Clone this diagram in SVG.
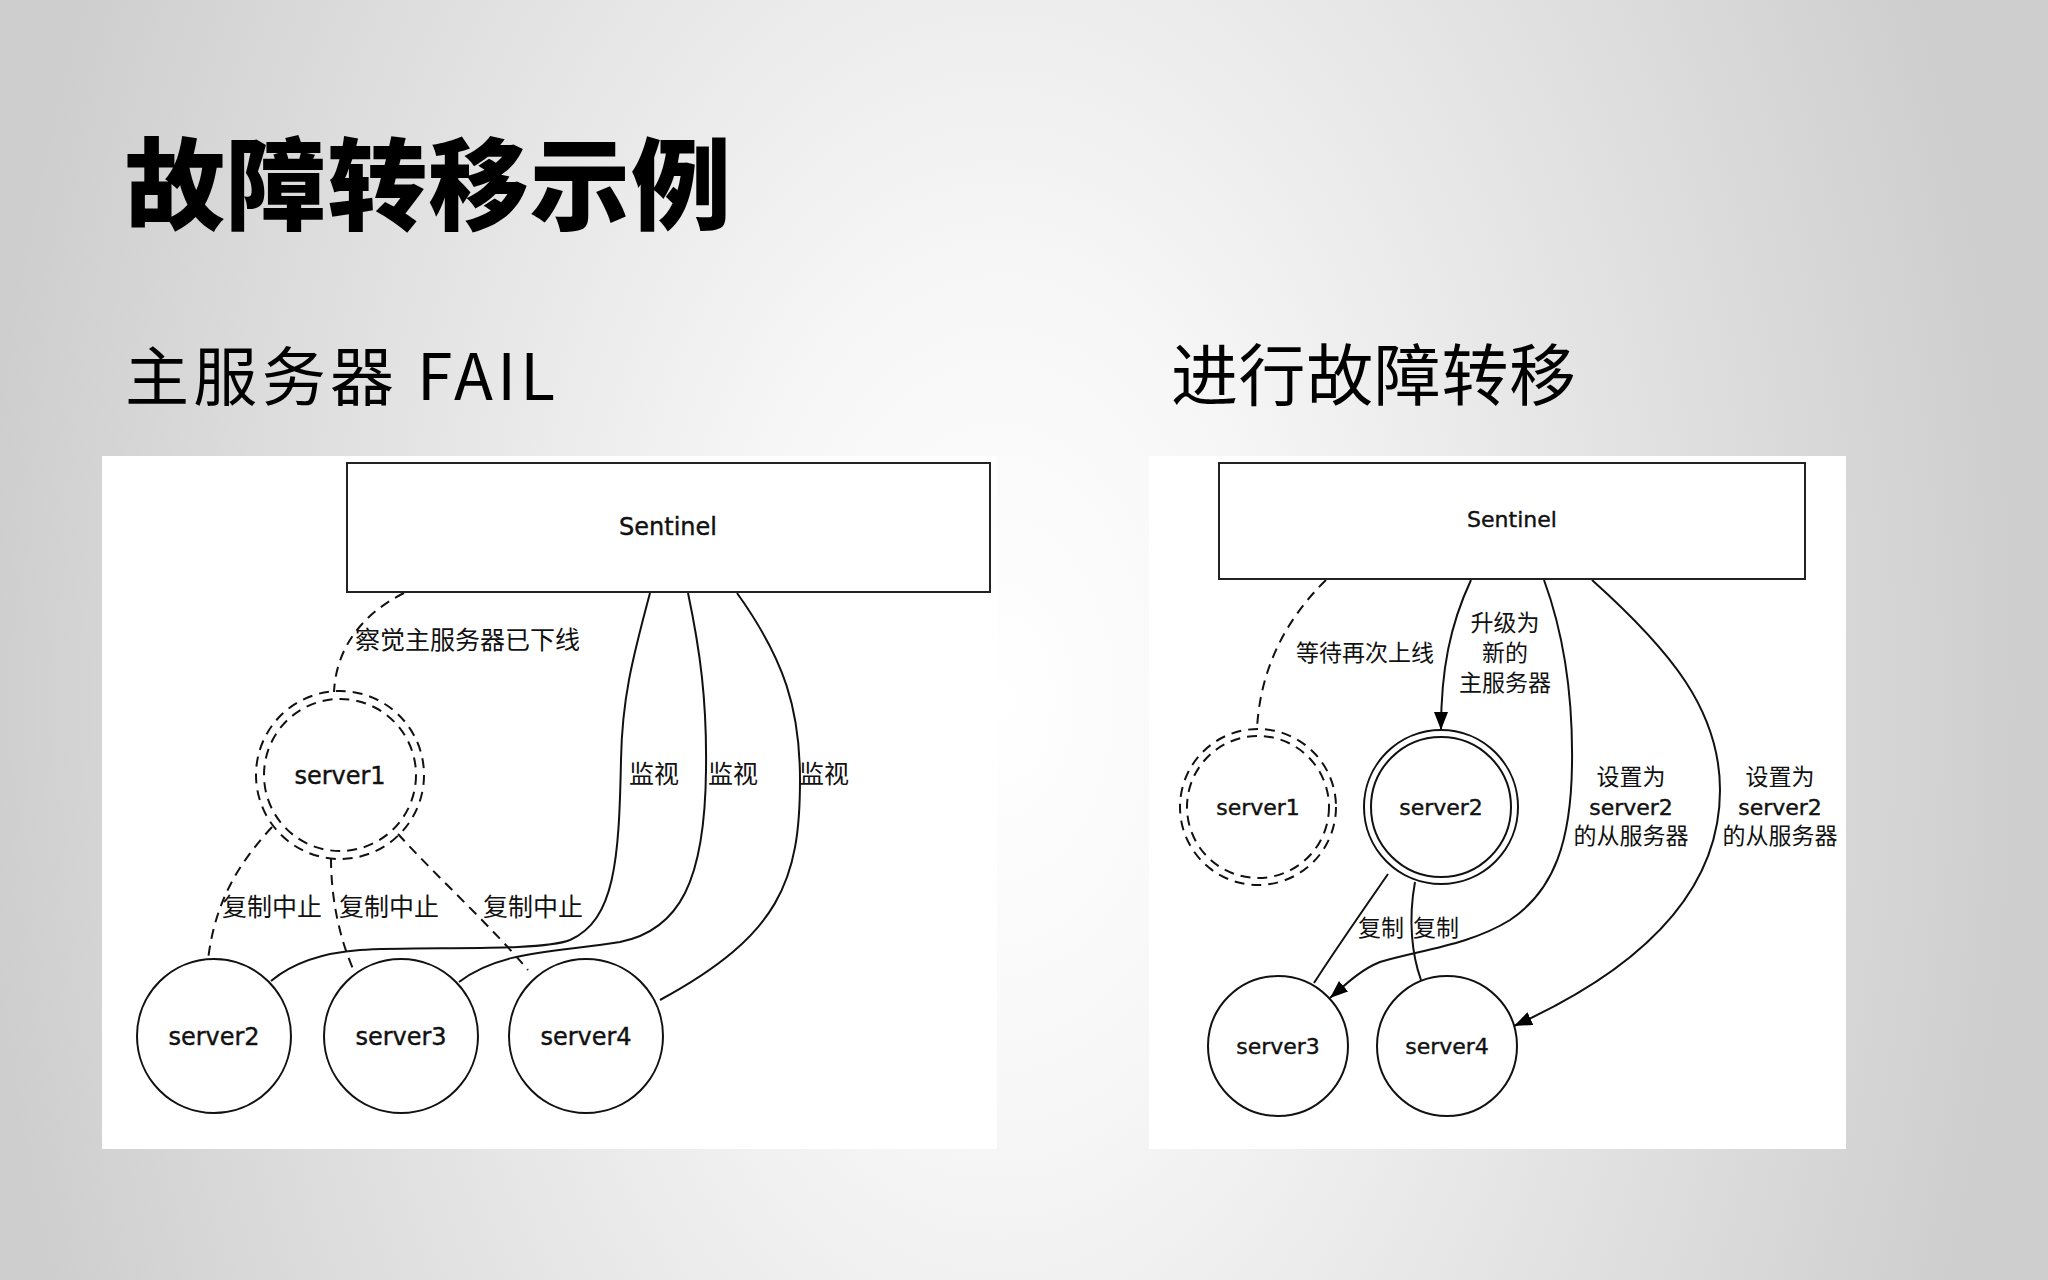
<svg xmlns="http://www.w3.org/2000/svg" width="2048" height="1280" viewBox="0 0 2048 1280">
<defs>
  <radialGradient id="bg" gradientUnits="userSpaceOnUse" cx="1000" cy="700" r="1020" gradientTransform="translate(0 700) scale(1 1.6) translate(0 -700)">
    <stop offset="0" stop-color="#ffffff"/>
    <stop offset="0.25" stop-color="#f7f7f7"/>
    <stop offset="1" stop-color="#cecece"/>
  </radialGradient>
  <marker id="arr" markerUnits="userSpaceOnUse" markerWidth="20" markerHeight="16" refX="18" refY="7" orient="auto">
    <path d="M0,0 L18,7 L0,14 Z" fill="#000"/>
  </marker>
  <style>
    .box{fill:#fff;stroke:#222;stroke-width:2}
    .node{fill:#fff;stroke:#111;stroke-width:2}
    .dnode{fill:none;stroke:#111;stroke-width:2;stroke-dasharray:10 7}
    .edge{fill:none;stroke:#111;stroke-width:2}
    .dedge{fill:none;stroke:#111;stroke-width:2;stroke-dasharray:10 7}
    .lbl{font-family:"DejaVu Sans","Noto Sans CJK SC",sans-serif;fill:#111;text-anchor:middle;stroke:#111;stroke-width:0.4}
    .L{font-size:24px}
    .R{font-size:22px}
    .cn{font-family:"Noto Sans CJK SC",sans-serif;fill:#111}
    .cnL{font-size:25px}
    .cnR{font-size:23px}
    .mid{text-anchor:middle}
  </style>
</defs>
<rect x="0" y="0" width="2048" height="1280" fill="url(#bg)"/>

<text x="125" y="222" font-family="'Noto Sans CJK SC',sans-serif" font-weight="900" font-size="100" fill="#000" textLength="606" lengthAdjust="spacing">故障转移示例</text>
<text x="125" y="400" font-family="'Noto Sans CJK SC',sans-serif" font-size="64" fill="#000" textLength="430" lengthAdjust="spacing">主服务器 FAIL</text>
<text x="1171" y="400" font-family="'Noto Sans CJK SC',sans-serif" font-size="67" fill="#000" textLength="405" lengthAdjust="spacing">进行故障转移</text>

<!-- Left panel -->
<rect x="102" y="456" width="895" height="693" fill="#fff"/>
<g id="left-connectors">
  <path class="dedge" d="M404,593 C360,615 336,650 334,692"/>
  <path class="edge" d="M650,593 C632,660 622,700 621,760 C619,860 615,920 570,940 C540,952 420,946 360,950 C320,953 290,965 271,981"/>
  <path class="edge" d="M688,593 C700,650 707,700 706,770 C705,880 680,930 620,942 C560,952 500,950 459,982"/>
  <path class="edge" d="M737,593 C785,660 800,710 800,780 C800,880 780,935 660,1000"/>
  <path class="dedge" d="M272,827 C240,862 215,900 208,960"/>
  <path class="dedge" d="M331,858 C331,900 340,940 354,971"/>
  <path class="dedge" d="M398,834 C440,880 490,925 528,970"/>
  <text class="cn cnL" x="355" y="649">察觉主服务器已下线</text>
  <text class="cn cnL mid" x="654" y="783">监视</text>
  <text class="cn cnL mid" x="733" y="783">监视</text>
  <text class="cn cnL mid" x="824" y="783">监视</text>
  <text class="cn cnL mid" x="272" y="916">复制中止</text>
  <text class="cn cnL mid" x="389" y="916">复制中止</text>
  <text class="cn cnL mid" x="533" y="916">复制中止</text>
</g>
<g id="L-sentinel">
  <rect class="box" x="347" y="463" width="643" height="129"/>
  <text class="lbl L" x="668" y="535">Sentinel</text>
</g>
<g id="L-server1">
  <circle class="dnode" cx="340" cy="775" r="84"/>
  <circle class="dnode" cx="340" cy="775" r="76"/>
  <text class="lbl L" x="340" y="784">server1</text>
</g>
<g id="L-server2">
  <circle class="node" cx="214" cy="1036" r="77"/>
  <text class="lbl L" x="214" y="1045">server2</text>
</g>
<g id="L-server3">
  <circle class="node" cx="401" cy="1036" r="77"/>
  <text class="lbl L" x="401" y="1045">server3</text>
</g>
<g id="L-server4">
  <circle class="node" cx="586" cy="1036" r="77"/>
  <text class="lbl L" x="586" y="1045">server4</text>
</g>

<!-- Right panel -->
<rect x="1149" y="456" width="697" height="693" fill="#fff"/>
<g id="right-connectors">
  <path class="dedge" d="M1326,580 C1285,620 1260,670 1257,729"/>
  <path class="edge" marker-end="url(#arr)" d="M1471,580 C1450,625 1441,670 1441,730"/>
  <path class="edge" marker-end="url(#arr)" d="M1544,580 C1566,640 1573,700 1572,765 C1571,840 1555,890 1510,920 C1470,945 1420,950 1380,962 C1360,970 1345,985 1330,998"/>
  <path class="edge" marker-end="url(#arr)" d="M1592,580 C1670,650 1720,710 1720,790 C1720,880 1660,960 1514,1026"/>
  <path class="edge" d="M1388,874 C1370,900 1335,950 1314,983"/>
  <path class="edge" d="M1415,882 C1408,920 1412,955 1421,980"/>
  <text class="cn cnR mid" x="1365" y="661">等待再次上线</text>
  <text class="cn cnR mid" x="1505" y="631">升级为</text>
  <text class="cn cnR mid" x="1505" y="661">新的</text>
  <text class="cn cnR mid" x="1505" y="691">主服务器</text>
  <text class="cn cnR mid" x="1631" y="785">设置为</text>
  <text class="lbl R" x="1631" y="815">server2</text>
  <text class="cn cnR mid" x="1631" y="844">的从服务器</text>
  <text class="cn cnR mid" x="1780" y="785">设置为</text>
  <text class="lbl R" x="1780" y="815">server2</text>
  <text class="cn cnR mid" x="1780" y="844">的从服务器</text>
  <text class="cn cnR mid" x="1381" y="936">复制</text>
  <text class="cn cnR mid" x="1436" y="936">复制</text>
</g>
<g id="R-sentinel">
  <rect class="box" x="1219" y="463" width="586" height="116"/>
  <text class="lbl R" x="1512" y="527">Sentinel</text>
</g>
<g id="R-server1">
  <circle class="dnode" cx="1258" cy="807" r="78"/>
  <circle class="dnode" cx="1258" cy="807" r="71"/>
  <text class="lbl R" x="1258" y="815">server1</text>
</g>
<g id="R-server2">
  <circle class="node" cx="1441" cy="807" r="77"/>
  <circle class="node" cx="1441" cy="807" r="70"/>
  <text class="lbl R" x="1441" y="815">server2</text>
</g>
<g id="R-server3">
  <circle class="node" cx="1278" cy="1046" r="70"/>
  <text class="lbl R" x="1278" y="1054">server3</text>
</g>
<g id="R-server4">
  <circle class="node" cx="1447" cy="1046" r="70"/>
  <text class="lbl R" x="1447" y="1054">server4</text>
</g>
</svg>
